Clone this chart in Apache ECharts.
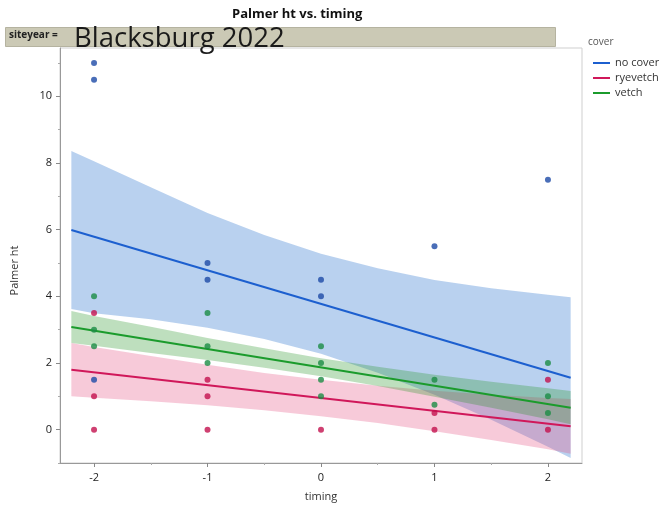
<!DOCTYPE html>
<html>
<head>
<meta charset="utf-8">
<script src="https://cdn.jsdelivr.net/npm/echarts@6/dist/echarts.min.js"></script>
<style>
  html, body { margin: 0; padding: 0; background: #fff; }
  #chart { width: 660px; height: 512px; }
</style>
</head>
<body>
<div id="chart"></div>
<script>
// Palmer amaranth height by planting timing, one colour per cover treatment.
const covers = ['no cover', 'ryevetch', 'vetch'];
const coverColors = ['#1c5fcf', '#d0185a', '#1b9b2c'];
const pointColors = ['#1d4aa6', '#c3104e', '#1c8c45'];
const bandColors = ['rgba(80,140,215,0.40)', 'rgba(230,80,130,0.30)', 'rgba(40,150,40,0.30)'];

const xTicks = [-2, -1, 0, 1, 2];
const xMinorTicks = [-1.5, -0.5, 0.5, 1.5];
const yTicks = [0, 2, 4, 6, 8, 10];
const yMinorTicks = [-1, 1, 3, 5, 7, 9, 11];

// observations [timing, height]
const noCoverPts = [[-2, 11], [-2, 10.5], [-2, 1.5], [-1, 5], [-1, 4.5], [0, 4.5], [0, 4], [1, 5.5], [2, 7.5]];
const ryevetchPts = [[-2, 3.5], [-2, 1], [-2, 0], [-1, 1.5], [-1, 1], [-1, 0], [0, 0], [1, 0.5], [1, 0], [2, 1.5], [2, 0]];
const vetchPts = [[-2, 4], [-2, 3], [-2, 2.5], [-1, 3.5], [-1, 2.5], [-1, 2], [0, 2.5], [0, 2], [0, 1.5], [0, 1], [1, 1.5], [1, 0.75], [2, 2], [2, 1], [2, 0.5]];

// fitted lines, evaluated at the ends of the fit range
const fitX = [-2.2, 2.2];
const noCoverFit = [5.99, 1.56];
const ryevetchFit = [1.80, 0.10];
const vetchFit = [3.08, 0.66];

// confidence band limits
const bandX = [-2.2, -2, -1.5, -1, -0.5, 0, 0.5, 1, 1.5, 2, 2.2];
const noCoverUpper = [8.36, 8.05, 7.27, 6.50, 5.84, 5.28, 4.84, 4.49, 4.24, 4.05, 3.97];
const noCoverLower = [3.62, 3.49, 3.31, 3.06, 2.72, 2.28, 1.71, 1.05, 0.30, -0.51, -0.85];
const ryevetchUpper = [2.60, 2.48, 2.21, 1.95, 1.70, 1.50, 1.32, 1.17, 1.05, 0.95, 0.92];
const ryevetchLower = [1.00, 0.96, 0.85, 0.73, 0.58, 0.40, 0.20, -0.05, -0.31, -0.59, -0.72];
const vetchUpper = [3.56, 3.41, 3.09, 2.75, 2.44, 2.14, 1.89, 1.65, 1.44, 1.24, 1.16];
const vetchLower = [2.60, 2.52, 2.30, 2.09, 1.86, 1.60, 1.31, 0.99, 0.66, 0.31, 0.16];

const FONT = 'Open Sans';

function bandSeries(name, upper, lower, color) {
  return {
    name: name + ' band',
    type: 'custom',
    silent: true,
    clip: true,
    z: 1,
    data: bandX.map((x, i) => [x, lower[i], upper[i]]),
    encode: { x: 0, y: [1, 2] },
    renderItem: function (params, api) {
      if (params.dataIndex !== 0) return null;
      const top = bandX.map((x, i) => api.coord([x, upper[i]]));
      const bottom = bandX.map((x, i) => api.coord([x, lower[i]])).reverse();
      return {
        type: 'polygon',
        shape: { points: top.concat(bottom) },
        style: { fill: color }
      };
    }
  };
}

function fitSeries(name, vals, color) {
  return {
    name: name,
    type: 'line',
    data: fitX.map((x, i) => [x, vals[i]]),
    symbol: 'none',
    lineStyle: { color: color, width: 2 },
    itemStyle: { color: color },
    z: 3,
    silent: true
  };
}

function pointSeries(name, pts, color) {
  return {
    name: name + ' obs',
    type: 'scatter',
    data: pts,
    symbol: 'circle',
    symbolSize: 6,
    itemStyle: { color: color },
    z: 4,
    silent: true
  };
}

const chart = echarts.init(document.getElementById('chart'), null, { renderer: 'canvas' });

chart.setOption({
  animation: false,
  backgroundColor: '#ffffff',
  textStyle: { fontFamily: FONT },
  title: {
    text: 'Palmer ht vs. timing',
    left: 227,
    top: 3,
    textStyle: { fontFamily: FONT, fontSize: 13, fontWeight: 'bold', color: '#111' }
  },
  legend: {
    data: covers,
    orient: 'vertical',
    left: 588,
    top: 51,
    icon: 'rect',
    itemWidth: 17,
    itemHeight: 2,
    itemGap: 1,
    textStyle: { fontFamily: FONT, fontSize: 11, color: '#333', lineHeight: 14 },
    selectedMode: false
  },
  grid: {
    left: 60, top: 48, right: 78, bottom: 49,
    show: true,
    borderColor: '#cfcfcf',
    borderWidth: 1
  },
  xAxis: [{
    type: 'value',
    min: -2.3,
    max: 2.3,
    name: 'timing',
    nameLocation: 'middle',
    nameGap: 28,
    nameTextStyle: { fontFamily: FONT, fontSize: 11, color: '#333' },
    axisLine: { show: true, onZero: false, lineStyle: { color: '#999' } },
    axisTick: { show: true, customValues: xTicks, length: 4, lineStyle: { color: '#888' } },
    axisLabel: { customValues: xTicks, fontFamily: FONT, fontSize: 11, color: '#222', margin: 9 },
    splitLine: { show: false }
  }, {
    type: 'value',
    min: -2.3,
    max: 2.3,
    position: 'bottom',
    axisLine: { show: false, onZero: false },
    axisTick: { show: true, customValues: xMinorTicks, length: 2, lineStyle: { color: '#aaa' } },
    axisLabel: { show: false },
    splitLine: { show: false }
  }],
  yAxis: [{
    type: 'value',
    min: -1,
    max: 11.45,
    name: 'Palmer ht',
    nameLocation: 'middle',
    nameGap: 40,
    nameTextStyle: { fontFamily: FONT, fontSize: 11, color: '#333', padding: [0, 30, 0, 0] },
    axisLine: { show: true, onZero: false, lineStyle: { color: '#999' } },
    axisTick: { show: true, customValues: yTicks, length: 4, lineStyle: { color: '#888' } },
    axisLabel: { customValues: yTicks, fontFamily: FONT, fontSize: 11, color: '#222', margin: 8 },
    splitLine: { show: false }
  }, {
    type: 'value',
    min: -1,
    max: 11.45,
    position: 'left',
    axisLine: { show: false, onZero: false },
    axisTick: { show: true, customValues: yMinorTicks, length: 2, lineStyle: { color: '#aaa' } },
    axisLabel: { show: false },
    splitLine: { show: false }
  }],
  graphic: [
    {
      type: 'rect',
      left: 5, top: 27,
      shape: { width: 550, height: 19 },
      style: { fill: '#cbc9b5', stroke: '#b5b3a0', lineWidth: 1 },
      z: 10
    },
    {
      type: 'text',
      left: 9, top: 30,
      style: { text: 'siteyear = ', font: 'bold 10px "Open Sans"', fill: '#222' },
      z: 11
    },
    {
      type: 'text',
      left: 74, top: 25,
      style: { text: 'Blacksburg 2022', font: '27.5px "Open Sans"', fill: '#1a1a1a' },
      z: 12
    },
    {
      type: 'text',
      left: 588, top: 37,
      style: { text: 'cover', font: '10px "Open Sans"', fill: '#555' },
      z: 11
    }
  ],
  series: [
    bandSeries(covers[0], noCoverUpper, noCoverLower, bandColors[0]),
    bandSeries(covers[1], ryevetchUpper, ryevetchLower, bandColors[1]),
    bandSeries(covers[2], vetchUpper, vetchLower, bandColors[2]),
    fitSeries(covers[0], noCoverFit, coverColors[0]),
    fitSeries(covers[1], ryevetchFit, coverColors[1]),
    fitSeries(covers[2], vetchFit, coverColors[2]),
    pointSeries(covers[0], noCoverPts, pointColors[0]),
    pointSeries(covers[1], ryevetchPts, pointColors[1]),
    pointSeries(covers[2], vetchPts, pointColors[2])
  ]
});
</script>
</body>
</html>
